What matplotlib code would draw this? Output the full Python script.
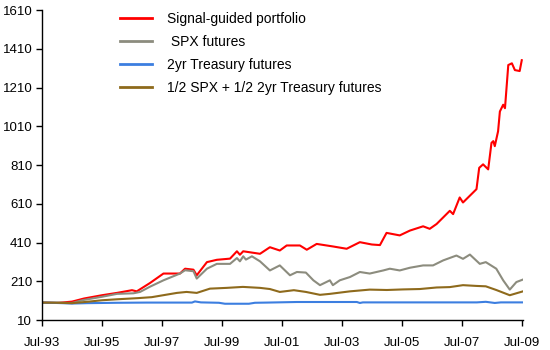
import matplotlib
matplotlib.use("Agg")
import matplotlib.pyplot as plt

plt.rcParams['font.family'] = ['Liberation Sans', 'DejaVu Sans']

# --- Data (decimal years, index values) ---
red_t = [1993.5, 1994.0, 1994.5, 1994.9, 1995.5, 1996.0, 1996.5, 1996.66, 1997.1, 1997.55,
         1998.1, 1998.27, 1998.55, 1998.66, 1999.0, 1999.33, 1999.77, 2000.0, 2000.1, 2000.21,
         2000.77, 2001.1, 2001.43, 2001.66, 2002.1, 2002.33, 2002.66, 2003.2, 2003.66, 2004.1,
         2004.5, 2004.77, 2004.99, 2005.43, 2005.77, 2006.21, 2006.43, 2006.66, 2006.88, 2007.1,
         2007.21, 2007.43, 2007.54, 2007.88, 2007.99, 2008.08, 2008.21, 2008.38, 2008.49, 2008.55,
         2008.6, 2008.71, 2008.77, 2008.88, 2008.94, 2009.05, 2009.17, 2009.27, 2009.43, 2009.5]
red_v = [100, 98, 105, 121, 138, 150, 164, 158, 201, 250,
         250, 275, 270, 241, 309, 321, 327, 365, 347, 365,
         352, 386, 369, 395, 395, 373, 403, 390, 378, 412,
         400, 397, 460, 447, 472, 494, 481, 506, 540, 574,
         557, 643, 617, 669, 686, 796, 814, 788, 925, 934,
         908, 985, 1087, 1122, 1104, 1327, 1336, 1301, 1296, 1352]

spx_t = [1993.5, 1994.0, 1994.5, 1994.87, 1995.5, 1996.0, 1996.55, 1996.77, 1997.1, 1997.55,
         1998.1, 1998.27, 1998.55, 1998.66, 1999.0, 1999.33, 1999.77, 2000.0, 2000.1, 2000.21,
         2000.3, 2000.5, 2000.77, 2001.1, 2001.43, 2001.77, 2002.0, 2002.3, 2002.55, 2002.77,
         2003.1, 2003.2, 2003.43, 2003.77, 2004.1, 2004.43, 2004.88, 2005.1, 2005.43, 2005.77,
         2006.21, 2006.54, 2006.88, 2007.32, 2007.54, 2007.77, 2008.1, 2008.3, 2008.65, 2008.88,
         2009.1, 2009.32, 2009.54]
spx_v = [100, 100, 98, 113, 130, 145, 148, 155, 182, 215,
         250, 267, 262, 224, 275, 300, 300, 330, 313, 339,
         322, 339, 313, 266, 292, 241, 258, 255, 215, 190,
         215, 190, 215, 232, 258, 250, 266, 275, 266, 280,
         292, 292, 318, 343, 326, 348, 300, 309, 275, 215,
         167, 206, 219]

tsy_t = [1993.5, 1994.0, 1994.5, 1995.0, 1996.0, 1997.0, 1998.0, 1998.5, 1998.6, 1998.8,
         1999.4, 1999.6, 2000.4, 2000.6, 2001.0, 2002.0, 2003.0, 2004.0, 2004.1, 2004.2,
         2005.0, 2006.0, 2007.0, 2008.0, 2008.3, 2008.6, 2008.8, 2009.0, 2009.54]
tsy_v = [100, 98, 95, 97, 99, 100, 100, 100, 106, 101,
         99, 94, 94, 99, 100, 103, 103, 103, 98, 101,
         101, 101, 101, 101, 104, 98, 101, 101, 101]

mix_t = [1993.5, 1994.0, 1994.5, 1995.0, 1995.5, 1996.0, 1996.7, 1997.16, 1997.54, 1998.0,
         1998.32, 1998.66, 1999.1, 1999.66, 2000.2, 2000.77, 2001.1, 2001.43, 2001.9, 2002.3,
         2002.77, 2003.1, 2003.77, 2004.43, 2005.0, 2005.54, 2006.1, 2006.66, 2007.1, 2007.54,
         2007.99, 2008.3, 2008.65, 2008.9, 2009.1, 2009.54]
mix_v = [100, 99, 97, 104, 112, 117, 123, 128, 138, 150,
         155, 150, 172, 176, 181, 176, 170, 155, 164, 155,
         140, 145, 158, 167, 165, 168, 170, 178, 180, 190,
         186, 184, 165, 150, 138, 158]

series = [
    (red_t, red_v, "#FF0000", "Signal-guided portfolio"),
    (spx_t, spx_v, "#8C8C7E", " SPX futures"),
    (tsy_t, tsy_v, "#3C7EE0", "2yr Treasury futures"),
    (mix_t, mix_v, "#8E6A1C", "1/2 SPX + 1/2 2yr Treasury futures"),
]

tick_years = [1993.5, 1995.5, 1997.5, 1999.5, 2001.5, 2003.5, 2005.5, 2007.5, 2009.5]
tick_labels = ["Jul-93", "Jul-95", "Jul-97", "Jul-99", "Jul-01", "Jul-03", "Jul-05", "Jul-07", "Jul-09"]
y_ticks = [10, 210, 410, 610, 810, 1010, 1210, 1410, 1610]

# --- Plot ---
fig = plt.figure(figsize=(5.5, 3.5), dpi=100, facecolor='white')
ax = fig.add_axes([0.0764, 0.0857, 0.875, 0.885])

for t, v, c, lab in series:
    ax.plot(t, v, color=c, lw=1.5, label=lab)

ax.set_xlim(1993.5, 2009.55)
ax.set_ylim(10, 1610)
ax.set_xticks(tick_years)
ax.set_xticklabels(tick_labels)
ax.set_yticks(y_ticks)

for s in ['top', 'right']:
    ax.spines[s].set_visible(False)
for s in ['left', 'bottom']:
    ax.spines[s].set_linewidth(1.0)
ax.tick_params(axis='both', direction='out', length=4, width=1.0, labelsize=9.5, colors='black')
ax.tick_params(axis='x', pad=8)
ax.tick_params(axis='y', pad=3)

leg = ax.legend(loc='upper left', bbox_to_anchor=(120 / 550, 1 - 12 / 350),
                bbox_transform=fig.transFigure, frameon=False, fontsize=10,
                handlelength=2.3, handletextpad=1.08, labelspacing=0.64,
                borderaxespad=0, borderpad=0)
for line in leg.get_lines():
    line.set_linewidth(2)

plt.savefig("out.png", dpi=100, facecolor='white')
